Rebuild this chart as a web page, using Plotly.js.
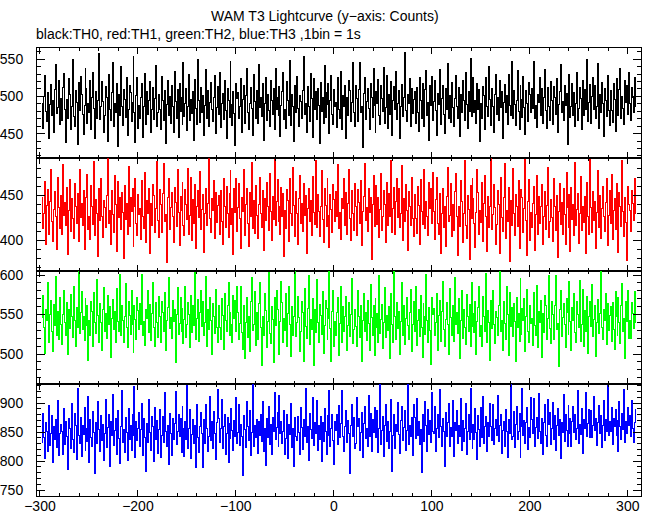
<!DOCTYPE html>
<html>
<head>
<meta charset="utf-8">
<script src="https://cdn.plot.ly/plotly-3.0.1.min.js"></script>
<style>
html,body{margin:0;padding:0;background:#fff;}
#chart{width:652px;height:515px;}
.scatterlayer path.js-line{shape-rendering:crispEdges;}
</style>
</head>
<body>
<div id="chart"></div>
<script>
const startTime = -298; // first bin time (s), 1 bin = 1 s
const xTickVals = [-300, -200, -100, 0, 100, 200, 300];

const th0 = [
491,457,500,528,480,466,505,443,489,516,474,494,451,509,543,477,485,521,462,497,
468,512,531,483,438,496,470,524,502,455,487,549,473,460,508,492,435,519,481,527,
503,476,449,488,537,511,463,490,478,522,456,499,532,484,444,507,471,495,558,469,
486,520,493,452,475,513,498,440,529,482,467,505,546,459,491,478,517,433,502,474,
540,487,461,509,496,472,525,448,483,514,505,466,492,553,479,438,501,526,457,488,
471,499,518,445,486,531,462,507,476,494,520,451,483,512,469,497,541,460,478,503,
482,456,527,495,468,508,437,489,522,475,500,464,515,486,452,534,493,471,509,445,
517,480,498,462,545,473,491,510,454,487,530,468,496,477,507,441,523,484,462,550,
494,465,512,479,501,447,488,536,471,508,459,492,519,483,466,499,528,450,485,513,
476,532,458,490,504,469,521,481,443,511,495,472,547,489,461,506,477,434,518,497,
505,470,487,524,452,496,515,463,501,538,478,456,491,512,484,447,529,493,470,508,
463,543,485,499,473,517,441,490,526,467,503,481,459,522,495,476,510,456,537,482,
498,474,513,446,488,506,532,469,483,457,520,494,475,548,461,502,487,439,515,479,
527,484,460,501,493,471,508,554,476,490,452,513,486,466,531,497,445,524,482,506,
469,511,488,437,519,480,498,463,541,472,505,489,517,450,494,528,476,462,509,486,
492,458,525,483,470,533,455,501,487,515,443,498,474,521,508,466,492,546,479,460,
514,497,466,509,545,478,486,431,504,526,469,493,511,484,455,517,499,472,538,488,
451,506,490,523,474,462,514,497,480,539,463,485,528,457,502,476,520,448,495,513,
482,534,469,491,508,444,487,516,473,498,559,481,466,503,490,524,459,511,477,496,
507,463,512,478,453,526,495,471,518,487,460,509,535,475,492,441,514,488,527,467,
493,521,481,448,504,489,536,462,497,515,476,450,510,483,544,470,501,465,519,485,
459,497,528,487,471,512,446,503,479,522,494,468,532,489,457,506,480,551,473,500,
526,478,495,464,517,483,509,439,490,470,513,501,456,525,487,473,540,496,461,511,
487,452,503,530,476,498,467,521,485,507,443,492,516,478,501,462,529,488,475,547,
471,508,489,461,494,535,480,455,514,496,472,527,485,449,508,491,466,519,502,478,
511,484,547,470,488,458,503,492,526,474,510,464,498,536,481,457,512,487,468,520,
495,462,513,499,476,524,451,489,506,543,479,493,467,515,488,504,436,497,530,472,
486,518,475,505,460,491,532,468,484,512,497,455,521,474,509,483,549,466,492,516,
463,500,526,482,514,471,487,544,457,503,478,519,490,446,511,495,473,528,481,461,
508,481,465,517,496,453,524,489,475,509,537,470,500,484,462,521,492,515,476,532,
490,467,512,498,479,525,486];

const th1 = [
447,413,430,465,396,439,456,407,443,479,421,399,434,454,427,390,470,436,413,450,
406,484,428,442,416,459,384,433,467,410,446,424,402,463,438,419,452,399,478,425,
441,417,455,390,431,448,473,412,426,401,461,437,418,487,405,445,430,382,457,422,
468,427,403,444,436,414,450,492,419,433,396,455,429,409,472,440,388,465,425,448,
412,453,431,380,461,423,441,406,482,415,447,432,458,393,437,469,419,405,451,429,
435,401,466,426,413,475,398,444,430,457,386,441,417,462,450,409,435,487,422,403,
456,440,409,452,485,421,429,375,447,468,412,436,453,427,398,459,442,415,479,431,
394,449,433,464,417,405,456,440,423,480,406,428,470,400,445,419,462,391,438,455,
425,476,412,434,451,387,430,458,416,441,493,424,409,446,433,466,402,453,420,439,
450,406,455,421,396,468,438,414,460,430,403,452,477,418,435,384,457,431,469,410,
436,463,424,391,447,432,478,405,440,457,419,393,453,426,486,413,444,408,461,428,
402,440,470,430,414,455,389,446,422,464,437,411,474,432,400,449,423,490,416,443,
467,421,438,407,459,426,452,382,433,413,456,444,399,468,430,416,481,439,404,454,
430,395,446,472,419,441,410,463,428,450,386,435,458,421,444,405,471,431,418,488,
414,451,432,404,437,477,423,398,457,439,415,469,428,392,451,434,409,462,445,421,
454,427,484,413,431,401,446,435,468,417,453,407,441,478,424,400,455,430,411,463,
438,405,456,442,419,466,394,432,449,485,422,436,410,458,431,447,379,440,472,415,
429,461,418,448,403,434,474,411,427,455,440,398,464,417,452,426,489,409,435,459,
406,443,468,425,457,414,430,483,400,446,421,462,433,389,454,438,416,470,424,404,
451,424,408,460,439,396,467,432,418,452,478,413,443,427,405,464,435,458,419,475,
432,401,445,470,419,407,452,386,430,458,414,437,393,449,481,421,428,463,404,440,
411,454,474,426,383,438,415,466,443,398,430,489,416,402,450,434,379,461,424,469,
446,419,392,431,478,453,407,433,420,464,399,441,472,427,388,449,414,437,491,412,
429,462,436,396,418,455,440,385,470,425,410,447,485,402,433,421,459,377,444,417,
480,430,405,451,438,415,466,391,426,456,447,409,435,490,422,383,443,467,400,431,
414,441,460,389,429,472,406,449,419,437,462,395,426,454,412,439,481,403,421,445,
425,399,468,437,411,450,381,432,463,418,442,407,457,429,396,475,436,414,451,388,
459,423,440,405,486,416,434,452,397,430,471,411,438,420,449,385,464,427,406,490,
436,409,454,422,443,391,431,477,414,450,402,435,460,426,410,442,469,394,428,455,
419,473,401,433,446,412,463,424,387,453,437,415,488,432,404,448,420,378,460,440,
433,410,455,441,422,468,429];

const th2 = [
546,574,534,501,557,542,590,515,550,568,529,503,563,536,598,523,554,518,572,538,
512,550,581,540,524,565,499,556,532,575,547,521,586,542,510,559,533,605,526,553,
579,531,548,517,570,536,562,492,543,523,566,554,509,578,540,526,594,549,514,564,
540,505,556,584,529,551,520,574,538,560,496,545,569,531,554,515,583,541,528,601,
524,561,542,514,547,589,533,508,567,549,525,581,538,502,561,544,519,572,555,531,
564,537,601,523,541,511,556,545,580,527,563,517,551,590,534,510,565,540,521,573,
548,515,566,552,529,578,504,542,559,597,532,546,520,568,541,557,489,550,584,525,
539,571,528,558,513,544,586,521,537,565,550,508,574,527,562,536,603,519,545,569,
516,553,580,535,567,524,540,598,510,556,531,572,543,499,564,548,526,582,534,514,
561,534,518,570,549,506,577,542,528,562,591,523,553,537,515,574,545,568,529,586,
552,518,539,585,527,506,561,494,540,571,521,548,503,566,597,530,537,579,511,553,
519,564,590,533,486,547,523,576,555,508,541,603,526,513,560,544,489,572,536,581,
557,529,500,541,592,565,515,545,530,577,509,551,586,538,497,560,524,548,612,522,
540,573,546,503,528,566,552,491,583,535,520,558,600,512,544,531,570,485,556,527,
594,540,514,563,549,525,579,501,536,568,558,519,545,606,532,491,554,580,510,541,
524,552,571,498,539,585,515,560,529,547,573,504,536,565,522,550,595,513,531,556,
535,509,580,548,521,561,490,542,576,528,553,517,568,539,505,588,546,524,562,498,
570,533,551,515,599,526,544,563,507,540,584,521,549,530,560,494,577,537,515,604,
547,518,565,532,554,500,541,590,524,561,512,545,572,536,519,552,582,503,538,566,
529,586,511,543,557,522,574,534,496,564,548,525,601,542,514,559,530,487,571,550,
558,523,540,577,505,549,568,516,554,592,531,509,544,565,537,500,583,546,523,561,
516,597,538,552,526,570,494,543,580,520,556,534,512,575,548,529,563,509,591,535,
551,527,566,499,541,559,586,522,536,510,573,547,528,602,514,555,540,492,568,532,
581,537,513,554,546,524,561,608,529,543,505,566,539,519,585,550,498,578,535,559,
522,564,541,490,572,533,551,516,595,525,558,542,570,503,547,582,529,515,562,539,
545,511,578,536,523,587,508,554,540,568,496,551,527,574,561,519,545,600,532,513,
567,550,519,562,599,531,539,484,557,580,522,546,564,537,508,570,552,525,592,541,
504,559,543,576,527,515,567,550,533,593,516,538,582,510,555,529,573,501,548,566,
535,588,522,544,561,497,540,569,526,551,613,534,519,556,543,577,512,564,530,549,
560,516,565,531,506,579,548,524,571,540,513,562,589,528,545,494,567,541,580,520,
543,520,565,551,532,579,539];

const th3 = [
833,883,840,804,867,852,816,896,827,848,878,798,859,837,871,824,905,810,847,864,
851,812,890,829,868,843,785,874,856,821,899,838,815,882,861,803,926,845,830,875,
808,862,846,893,819,857,834,912,797,871,840,825,886,850,778,866,831,902,855,817,
879,836,864,801,848,907,823,858,881,790,869,844,915,827,853,873,811,888,839,796,
860,921,832,855,815,876,849,802,891,838,862,818,880,845,929,806,868,835,857,884,
826,854,899,810,873,841,782,865,832,906,850,819,877,859,800,892,837,870,813,855,
889,807,844,877,833,918,852,826,861,795,883,847,810,874,838,865,920,829,851,881,
842,873,815,895,856,808,869,837,930,821,856,889,804,846,872,830,862,789,898,840,
815,860,884,848,789,871,830,897,857,816,843,911,835,868,822,885,847,803,866,924,
874,833,856,906,821,859,880,812,848,876,797,865,839,891,853,818,870,843,910,831,
850,897,827,864,842,775,878,854,823,902,860,836,887,809,849,933,825,861,840,872,
813,869,845,880,834,903,816,857,792,873,841,895,829,864,812,876,851,918,837,858,
884,825,914,847,868,830,852,887,811,839,881,805,863,846,899,823,857,790,875,842,
836,877,849,812,893,858,820,872,843,925,832,860,801,883,854,839,909,827,866,848,
905,818,862,838,877,799,866,834,891,852,811,878,845,922,826,857,880,836,794,869,
853,880,828,896,840,865,922,842,817,860,887,832,870,848,779,861,897,843,876,821,
831,910,859,873,818,850,884,806,865,895,839,857,826,913,842,883,816,871,849,892,
867,841,888,815,856,932,829,853,877,808,861,898,834,869,821,852,906,783,844,880,
822,864,851,901,846,813,870,895,836,858,887,819,853,940,828,862,843,875,810,897,
876,839,908,845,869,828,855,781,880,849,834,903,862,817,889,846,870,832,919,851,
847,895,817,856,880,841,924,860,825,873,851,790,884,843,867,899,826,858,842,905,
808,866,853,887,830,861,843,908,819,870,834,857,899,812,852,881,838,925,849,822,
863,837,890,849,803,878,855,826,893,840,912,831,859,877,817,866,842,900,860,835,
898,828,856,871,845,913,834,861,880,814,853,869,825,889,851,807,872,847,933,838,
842,885,823,864,895,837,851,882,806,859,926,844,870,831,866,893,820,858,841,910,
871,847,908,826,858,876,839,917,852,830,874,811,866,898,845,826,907,863,884,829,
856,901,837,879,818,862,891,845,872,805,867,850,915,834,880,853,826,896,848,874,
825,868,894,849,881,838,857,922,830,863,846,890,813,871,856,919,842,865,889,841,
887,840,862,912,853,873,827,866,896,848,878,824,861,905,836,872,852,931,845,869,
852,893,829,874,860,889,845,870,817,902,859,838,883,855,924,832,868,847,893,861,
878,843,904,856,833,867,890];

const series = [
  {name: 'TH0', y: th0, color: '#000000', range: [417, 565]},
  {name: 'TH1', y: th1, color: '#ff0000', range: [366, 491]},
  {name: 'TH2', y: th2, color: '#00ff00', range: [462, 605]},
  {name: 'TH3', y: th3, color: '#0000ff', range: [740, 933]}
];

const FONT = 'Liberation Sans, Arial, Helvetica, sans-serif';
const traces = [];
const layout = {
  width: 652, height: 515,
  margin: {l: 37, r: 11, t: 48, b: 19, pad: 0},
  paper_bgcolor: '#ffffff', plot_bgcolor: '#ffffff',
  showlegend: false,
  font: {family: FONT, size: 14, color: '#000'},
  annotations: [
    {text: 'WAM T3 Lightcurve (y\u2212axis: Counts)', xref: 'paper', yref: 'paper',
     x: 0.476, y: 1, xanchor: 'center', yanchor: 'bottom', yshift: 22, showarrow: false,
     font: {family: FONT, size: 14, color: '#000'}},
    {text: 'black:TH0, red:TH1, green:TH2, blue:TH3 ,1bin = 1s', xref: 'paper', yref: 'paper',
     x: 0, y: 1, xanchor: 'left', yanchor: 'bottom', yshift: 4, xshift: -3, showarrow: false,
     font: {family: FONT, size: 14, color: '#000'}}
  ]
};

const domains = [[0.754, 1], [0.502, 0.754], [0.25, 0.502], [0, 0.25]];

series.forEach((s, i) => {
  const n = i + 1;
  const xs = n === 1 ? 'x' : 'x' + n;
  const ys = n === 1 ? 'y' : 'y' + n;
  const time = s.y.map((_, k) => startTime + k);
  traces.push({
    x: time, y: s.y, xaxis: xs, yaxis: ys, type: 'scatter', mode: 'lines',
    line: {color: s.color, width: 1, shape: 'hv'}, hoverinfo: 'skip'
  });
  layout[n === 1 ? 'xaxis' : 'xaxis' + n] = {
    range: [-303, 313.5], anchor: ys, domain: [0, 1],
    tickvals: xTickVals, ticks: 'inside', ticklen: 6, tickwidth: 1, tickcolor: '#000',
    minor: {dtick: 20, tick0: 0, ticks: 'inside', ticklen: 3, tickwidth: 1, tickcolor: '#000', showgrid: false},
    showline: true, linecolor: '#000', linewidth: 1, mirror: 'ticks',
    showgrid: false, zeroline: false, showticklabels: n === 4, ticklabelstandoff: -3,
    tickfont: {family: FONT, size: 14, color: '#000'}, fixedrange: true
  };
  layout[n === 1 ? 'yaxis' : 'yaxis' + n] = {
    range: s.range, anchor: xs, domain: domains[i],
    dtick: 50, tick0: 0, ticks: 'inside', ticklen: 8, tickwidth: 1, tickcolor: '#000',
    minor: {dtick: 10, tick0: 0, ticks: 'inside', ticklen: 4, tickwidth: 1, tickcolor: '#000', showgrid: false},
    showline: true, linecolor: '#000', linewidth: 1, mirror: 'ticks',
    showgrid: false, zeroline: false, ticklabelstandoff: 10,
    tickfont: {family: FONT, size: 14, color: '#000'}, fixedrange: true
  };
});

Plotly.newPlot('chart', traces, layout, {staticPlot: true, displayModeBar: false});
</script>
</body>
</html>
